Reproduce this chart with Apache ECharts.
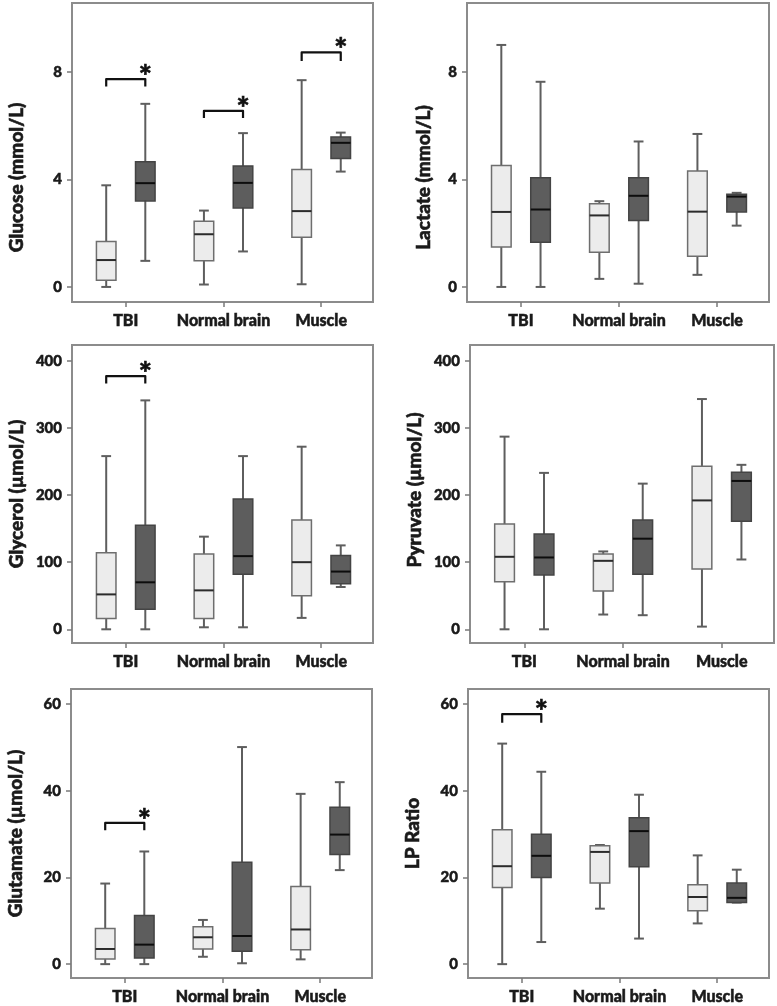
<!DOCTYPE html>
<html>
<head>
<meta charset="utf-8">
<script src="https://cdn.jsdelivr.net/npm/echarts@6/dist/echarts.min.js"></script>
<style>
  html, body { margin: 0; padding: 0; background: #fff; }
  #chart { width: 777px; height: 1006px; }
</style>
</head>
<body>
<div id="chart"></div>
<script>
var categories = ['TBI', 'Normal brain', 'Muscle'];

// one entry per category: [min, Q1, median, Q3, max]
var glucoseLight = [[0, 0.25, 1.0, 1.69, 3.78], [0.09, 0.97, 1.96, 2.44, 2.84], [0.1, 1.85, 2.82, 4.37, 7.69]];
var glucoseDark = [[0.97, 3.2, 3.86, 4.66, 6.81], [1.32, 2.94, 3.87, 4.5, 5.72], [4.29, 4.78, 5.36, 5.58, 5.74]];
var lactateLight = [[0, 1.49, 2.79, 4.52, 9.0], [0.3, 1.29, 2.66, 3.09, 3.19], [0.45, 1.14, 2.8, 4.31, 5.69]];
var lactateDark = [[0, 1.66, 2.88, 4.06, 7.63], [0.12, 2.47, 3.39, 4.06, 5.41], [2.28, 2.79, 3.36, 3.45, 3.5]];
var glycerolLight = [[0, 16, 52, 114, 258], [3, 16, 58, 112, 138], [17, 50, 100, 163, 272]];
var glycerolDark = [[0, 30, 70, 155, 341], [3, 82, 109, 194, 258], [63, 68, 86, 110, 125]];
var pyruvateLight = [[0, 71, 108, 157, 287], [22, 57, 102, 112, 116], [4, 90, 192, 243, 343]];
var pyruvateDark = [[0, 81, 107, 142, 233], [21, 82, 135, 163, 217], [104, 161, 221, 234, 245]];
var glutamateLight = [[0, 1.2, 3.5, 8.2, 18.6], [1.7, 3.5, 6.2, 8.6, 10.2], [1.1, 3.3, 8.0, 17.9, 39.3]];
var glutamateDark = [[0, 1.4, 4.5, 11.2, 26.0], [0.2, 3.0, 6.5, 23.5, 50.1], [21.7, 25.3, 29.9, 36.2, 42.0]];
var lpLight = [[0, 17.7, 22.6, 31.0, 50.9], [12.8, 18.7, 25.9, 27.3, 27.5], [9.4, 12.3, 15.5, 18.3, 25.1]];
var lpDark = [[5.1, 20.0, 25.0, 30.0, 44.4], [5.9, 22.5, 30.7, 33.8, 39.1], [14.2, 14.2, 15.3, 18.7, 21.8]];

// significance brackets: [category, bracket level, lower end of the drops]
var glucoseBrackets = [[0, 7.73, 7.45], [1, 6.55, 6.28], [2, 8.72, 8.4]];
var lactateBrackets = [];
var glycerolBrackets = [[0, 377, 366]];
var pyruvateBrackets = [];
var glutamateBrackets = [[0, 32.6, 30.9]];
var lpBrackets = [[0, 57.7, 55.7]];

var mmolTicks = [0, 4, 8];
var umolTicks = [0, 100, 200, 300, 400];
var smallTicks = [0, 20, 40, 60];

var FONT = 'Lato, "Open Sans", sans-serif';
var INK = '#1a1a1a';

// panel frames and axis ranges
var panels = [
  { name: 'Glucose (mmol/L)', light: glucoseLight, dark: glucoseDark, brackets: glucoseBrackets, ticks: mmolTicks,
    min: -0.56, max: 10.56, left: 72, top: 3, width: 301, height: 299, gap: 46, shift: 50 },
  { name: 'Lactate (mmol/L)', light: lactateLight, dark: lactateDark, brackets: lactateBrackets, ticks: mmolTicks,
    min: -0.56, max: 10.56, left: 467, top: 3, width: 302, height: 299, gap: 34, shift: 50 },
  { name: 'Glycerol (\u00b5mol/L)', light: glycerolLight, dark: glycerolDark, brackets: glycerolBrackets, ticks: umolTicks,
    min: -20.4, max: 423.5, left: 72, top: 345, width: 301, height: 298, gap: 46, shift: 0 },
  { name: 'Pyruvate (\u00b5mol/L)', light: pyruvateLight, dark: pyruvateDark, brackets: pyruvateBrackets, ticks: umolTicks,
    min: -20.4, max: 423.5, left: 470, top: 345, width: 304, height: 298, gap: 46, shift: -8 },
  { name: 'Glutamate (\u00b5mol/L)', light: glutamateLight, dark: glutamateDark, brackets: glutamateBrackets, ticks: smallTicks,
    min: -3.2, max: 63.5, left: 71, top: 689, width: 301, height: 289, gap: 46, shift: 0 },
  { name: 'LP Ratio', light: lpLight, dark: lpDark, brackets: lpBrackets, ticks: smallTicks,
    min: -3.2, max: 63.5, left: 468, top: 689, width: 301, height: 289, gap: 46, shift: 0 }
];

function toItems(list) {
  return list.map(function (b, i) { return [i].concat(b); });
}

function boxRenderer(side, fill, edge, mid) {
  return function (params, api) {
    var cat = api.value(0);
    var unit = api.size([1, 0])[0];
    var cx = api.coord([cat, 0])[0] + side * 0.2 * unit;
    var hw = 0.1 * unit;
    var cw = 0.05 * unit;
    var y = [1, 2, 3, 4, 5].map(function (k) { return api.coord([cat, api.value(k)])[1]; });
    var wStyle = { stroke: '#5e5e5e', lineWidth: 2 };
    return {
      type: 'group',
      children: [
        { type: 'line', shape: { x1: cx, y1: y[0], x2: cx, y2: y[4] }, style: wStyle },
        { type: 'line', shape: { x1: cx - cw, y1: y[0], x2: cx + cw, y2: y[0] }, style: wStyle },
        { type: 'line', shape: { x1: cx - cw, y1: y[4], x2: cx + cw, y2: y[4] }, style: wStyle },
        { type: 'rect', shape: { x: cx - hw, y: y[3], width: 2 * hw, height: y[1] - y[3] },
          style: { fill: fill, stroke: edge, lineWidth: 1.5 } },
        { type: 'line', shape: { x1: cx - hw, y1: y[2], x2: cx + hw, y2: y[2] },
          style: { stroke: mid, lineWidth: 2 } }
      ]
    };
  };
}

function bracketRenderer(params, api) {
  var cat = api.value(0);
  var unit = api.size([1, 0])[0];
  var c = api.coord([cat, api.value(1)]);
  var yEnd = api.coord([cat, api.value(2)])[1];
  var x1 = c[0] - 0.2 * unit;
  var x2 = c[0] + 0.2 * unit;
  return {
    type: 'group',
    children: [
      { type: 'polyline', shape: { points: [[x1, yEnd], [x1, c[1]], [x2, c[1]], [x2, yEnd]] },
        style: { stroke: '#111', lineWidth: 2.2, fill: null, lineJoin: 'round' } },
      { type: 'text', style: { text: '*', x: x2, y: c[1] - 2, align: 'center', verticalAlign: 'middle',
        font: '900 31px ' + FONT, fill: '#111', stroke: '#111', lineWidth: 0.6 } }
    ]
  };
}

var grids = [], xAxes = [], yAxes = [], series = [];

panels.forEach(function (p, i) {
  grids.push({
    left: p.left, top: p.top, width: p.width, height: p.height,
    show: true, borderColor: '#8c8c8c', borderWidth: 2,
    outerBoundsMode: 'none'
  });
  xAxes.push({
    type: 'value', gridIndex: i, min: -0.55, max: 2.53,
    axisLine: { show: false, onZero: false },
    splitLine: { show: false },
    axisTick: { show: true, customValues: [0, 1, 2], length: 5, lineStyle: { color: '#7a7a7a', width: 1.5 } },
    axisLabel: {
      customValues: [0, 1, 2], margin: 11,
      formatter: function (v) { return categories[Math.round(v)]; },
      fontFamily: FONT, fontWeight: 900, fontSize: 16, color: INK,
      textBorderColor: INK, textBorderWidth: 0.5
    }
  });
  yAxes.push({
    type: 'value', gridIndex: i, min: p.min, max: p.max,
    name: p.name, nameLocation: 'middle', nameGap: p.gap,
    nameTextStyle: {
      fontFamily: FONT, fontWeight: 900, fontSize: 19, color: INK,
      textBorderColor: INK, textBorderWidth: 0.6,
      padding: p.shift >= 0 ? [0, p.shift, 0, 0] : [0, 0, 0, -p.shift]
    },
    axisLine: { show: false, onZero: false },
    splitLine: { show: false },
    axisTick: { show: true, customValues: p.ticks, length: 5, lineStyle: { color: '#7a7a7a', width: 1.5 } },
    axisLabel: {
      customValues: p.ticks, margin: 10,
      fontFamily: FONT, fontWeight: 900, fontSize: 15, color: INK,
      textBorderColor: INK, textBorderWidth: 0.5
    }
  });
  series.push({
    type: 'custom', xAxisIndex: i, yAxisIndex: i,
    data: toItems(p.light), encode: { x: 0, y: [1, 5] },
    renderItem: boxRenderer(-1, '#ececec', '#6e6e6e', '#2b2b2b'),
    silent: true
  });
  series.push({
    type: 'custom', xAxisIndex: i, yAxisIndex: i,
    data: toItems(p.dark), encode: { x: 0, y: [1, 5] },
    renderItem: boxRenderer(1, '#5d5d5d', '#444444', '#0d0d0d'),
    silent: true
  });
  if (p.brackets.length) {
    series.push({
      type: 'custom', xAxisIndex: i, yAxisIndex: i,
      data: p.brackets, encode: { x: 0, y: [1, 2] },
      renderItem: bracketRenderer,
      silent: true
    });
  }
});

var chart = echarts.init(document.getElementById('chart'), null, { renderer: 'canvas' });
chart.setOption({
  animation: false,
  backgroundColor: '#ffffff',
  grid: grids,
  xAxis: xAxes,
  yAxis: yAxes,
  series: series
});
</script>
</body>
</html>
